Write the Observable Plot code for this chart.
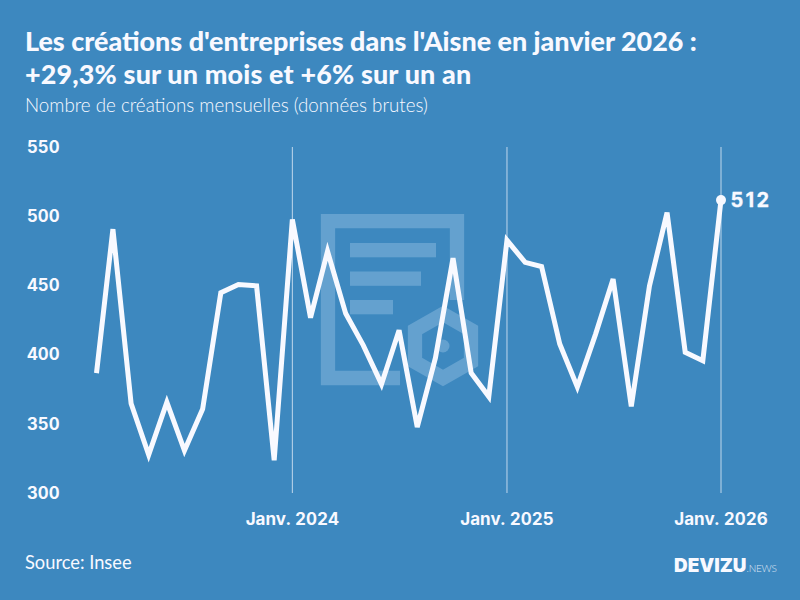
<!DOCTYPE html>
<html lang="fr">
<head>
<meta charset="utf-8">
<script src="https://cdn.jsdelivr.net/npm/d3@7"></script>
<script src="https://cdn.jsdelivr.net/npm/@observablehq/plot@0.6"></script>
<style>
html,body{margin:0;padding:0;}
body{width:800px;height:600px;background:#3d88bf;color:#f8f9ff;font-family:Lato,sans-serif;overflow:hidden;position:relative;}
.abs{position:absolute;white-space:nowrap;}
#title{left:25px;top:24px;font-size:26.9px;font-weight:900;line-height:33px;}
#title span{letter-spacing:.17px;}
#subtitle{left:25px;top:94px;font-size:18.75px;font-weight:300;line-height:22px;}
#source{left:25px;top:552px;font-size:18.3px;font-weight:400;line-height:20px;}
#logo{left:674px;top:554px;font-family:Inter,sans-serif;font-weight:900;font-size:18.9px;line-height:24px;}
#logo span{font-family:Lato,sans-serif;font-weight:300;font-size:10px;letter-spacing:-.2px;opacity:.85;}
#mark{left:0;top:0;}
#chart{left:0;top:125px;}
#chart svg text{font-family:Inter,sans-serif;}
</style>
</head>
<body>
<svg id="mark" class="abs" width="800" height="600">
  <g fill="none" stroke="#64a1cf" stroke-width="14.3">
    <path d="M400 378H328V221.200H457V300"/>
    <path d="M443 314L471 330V362L443 378L415 362V330Z"/>
  </g>
  <g fill="#64a1cf">
    <rect x="350" y="243" width="86" height="14.300"/>
    <rect x="350" y="271.500" width="71" height="14.300"/>
    <rect x="350" y="300" width="43" height="14.300"/>
    <circle cx="443" cy="346" r="6.500"/>
  </g>
</svg>
<div id="title" class="abs">Les créations d'entreprises dans l'Aisne en janvier 2026 :<br><span>+29,3% sur un mois et +6% sur un an</span></div>
<div id="subtitle" class="abs">Nombre de créations mensuelles (données brutes)</div>
<div id="chart" class="abs"></div>
<div id="source" class="abs">Source: Insee</div>
<div id="logo" class="abs">DEVIZU<span>.NEWS</span></div>
<script>
const months = ["2023-02","2023-03","2023-04","2023-05","2023-06","2023-07","2023-08","2023-09","2023-10","2023-11","2023-12",
  "2024-01","2024-02","2024-03","2024-04","2024-05","2024-06","2024-07","2024-08","2024-09","2024-10","2024-11","2024-12",
  "2025-01","2025-02","2025-03","2025-04","2025-05","2025-06","2025-07","2025-08","2025-09","2025-10","2025-11","2025-12","2026-01"];
const values = [387,491,365,328,366,331,361,445,451,450,324,
  498,427,475,430,407,379,418,348,398,470,387,370,
  483,467,464,408,377,415,455,363,450,503,402,396,512];
const yTicks = [300,350,400,450,500,550];
const janTicks = ["2024-01","2025-01","2026-01"];
const janLabels = ["Janv. 2024","Janv. 2025","Janv. 2026"];
const lastLabel = "512";

const ink = "#f8f9ff";
const rows = months.map((m,i)=>({date:new Date(m+"-01T00:00:00Z"),value:values[i]}));
const janDates = janTicks.map(m=>new Date(m+"-01T00:00:00Z"));
const last = rows[rows.length-1];

const plot = Plot.plot({
  width:800,height:410,
  marginTop:22,marginBottom:42,marginLeft:96,marginRight:79.5,
  style:{background:"transparent",color:ink,overflow:"visible"},
  x:{type:"utc",domain:[rows[0].date,last.date]},
  y:{domain:[300,550]},
  marks:[
    Plot.ruleX(janDates,{x:d=>d,y1:300,y2:550,stroke:ink,strokeWidth:1,strokeOpacity:.7}),
    Plot.line(rows,{x:"date",y:"value",stroke:ink,strokeWidth:5,curve:"linear",strokeLinejoin:"miter",strokeMiterlimit:4,strokeLinecap:"butt"}),
    Plot.dot([last],{x:"date",y:"value",r:5,fill:ink}),
    Plot.text([last],{x:"date",y:"value",text:()=>lastLabel,dx:9.5,dy:1,textAnchor:"start",fill:ink,stroke:ink,strokeWidth:.3,fontSize:20,fontWeight:700}),
    Plot.axisY({ticks:yTicks,tickSize:0,tickPadding:37,label:null,fontSize:16.8,fontWeight:700,fill:ink,anchor:"left"}),
    Plot.axisX({ticks:janDates,tickSize:0,tickPadding:19,label:null,fontSize:17,fontWeight:700,fill:ink,
      tickFormat:d=>janLabels[janDates.findIndex(j=>+j===+d)]})
  ]
});
document.getElementById("chart").appendChild(plot);
// letter spacing for the end label, applied to the rendered text node
plot.querySelectorAll("text").forEach(t=>{ if(t.textContent===lastLabel) t.style.letterSpacing="2.3px"; });
</script>
</body>
</html>
